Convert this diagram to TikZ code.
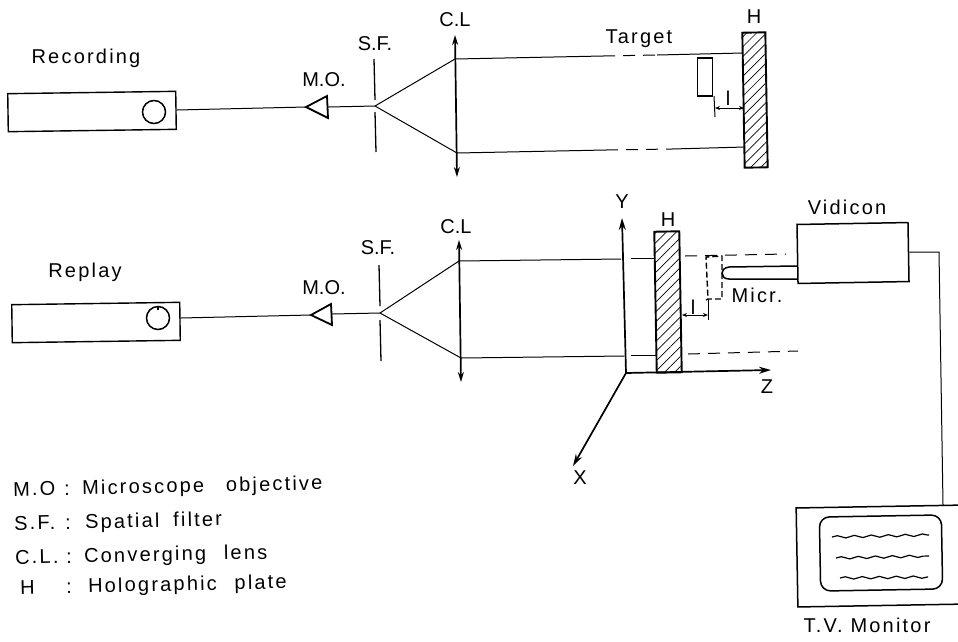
\documentclass[tikz,border=0pt]{standalone}
\usepackage{fontspec}
\setmainfont{Liberation Sans}
\newfontfamily\spaced[LetterSpace=11]{Liberation Sans}
\usetikzlibrary{arrows.meta, patterns.meta, decorations.pathmorphing}
\tikzstyle{laser}   = [rectangle, draw=black, line width=1.4pt, minimum width=168pt, minimum height=38pt, inner sep=0pt, rotate=0.8]
\tikzstyle{port}    = [circle, draw=black, line width=1.5pt, minimum size=23pt, inner sep=0pt]
\tikzstyle{objective} = [draw=black, line width=1.8pt, line join=miter]
\tikzstyle{plate}   = [rectangle, draw=black, line width=1.9pt, inner sep=0pt,
                       pattern={Lines[angle=45, distance=7pt, line width=0.7pt]}]
\tikzstyle{beam}    = [line width=1pt]
\tikzstyle{gapped}  = [line width=1pt, dash pattern=on 12pt off 8pt]
\tikzstyle{filter}  = [line width=1.3pt]
\tikzstyle{lens}    = [{Stealth[length=10pt, width=6pt]}-{Stealth[length=10pt, width=6pt]}, line width=1.7pt]
\tikzstyle{axis}    = [-{Stealth[length=12pt, width=7pt]}, line width=1.7pt]
\tikzstyle{dimen}   = [{Stealth[length=5pt, width=4pt]}-{Stealth[length=5pt, width=4pt]}, line width=0.9pt]
\tikzstyle{word}    = [font=\fontsize{20}{22}\selectfont\spaced, inner sep=0pt]
\tikzstyle{tag}     = [font=\fontsize{20}{22}\selectfont, inner sep=0pt]
\tikzstyle{legend}  = [font=\fontsize{20}{22}\selectfont\spaced, inner sep=0pt, anchor=west, rotate=1.2]
\tikzstyle{trace}   = [line width=1.2pt, decorate, decoration={snake, amplitude=1.2pt, segment length=17pt}]
\newcommand{\legendrow}[2]{\makebox[69pt][l]{\makebox[51pt][l]{#1}:}#2}

\begin{document}
\begin{tikzpicture}[x=1pt, y=-1pt]
  \useasboundingbox (0,0) rectangle (958,641);

  % Recording
  \node (recLabel)  [word] at (86,58)  {Recording};
  \node (recLaser)  [laser] at (92,111.5) {};
  \node (recPort)   [port]  at (154,112) {};
  \node (recMOl)    [tag]  at (324,80) {M.O.};
  \node (recSFl)    [tag]  at (375,44) {S.F.};
  \node (recCLl)    [tag]  at (455,20) {C.L};
  \node (recTarget) [word] at (639,39) {Target};
  \node (recHl)     [tag]  at (754,17) {H};
  \node (recPlate)  [plate, minimum width=23pt, minimum height=135pt, rotate=1] at (755,100) {};
  \node (recObj)    [rectangle, draw=black, line width=1.7pt, minimum width=15pt, minimum height=38pt, inner sep=0pt] at (705,77) {};
  \node (recDist)   [tag]  at (728,98) {l};

  \coordinate (recTip)   at (306,107);
  \coordinate (recBack)  at (328,107);
  \coordinate (recFocus) at (375,106);
  \coordinate (recUp)    at (455,59);
  \coordinate (recDown)  at (457,153);

  \draw [beam] (recLaser.east |- 0,110) -- (recTip);
  \draw [objective] (recTip) -- (327,96) -- (328,118) -- cycle;
  \draw [beam] (recBack) -- (recFocus);
  \draw [filter] (374,59) -- (375,100);
  \draw [filter] (375,112) -- (376,152);
  \draw [lens] (455,35) -- (457,177);
  \draw [beam] (recFocus) -- (recUp);
  \draw [beam] (recFocus) -- (recDown);

  \draw [beam] (recUp) -- (603,56);
  \draw [gapped] (603,56) -- (657,55);
  \draw [beam] (657,55) -- (743,53);
  \draw [beam] (recDown) -- (606,150);
  \draw [gapped] (606,150) -- (672,149);
  \draw [beam] (672,149) -- (745,147);

  \draw [beam] (714,96) -- (715,117);
  \draw [dimen] (715,108) -- (744,108);

  % Replay
  \node (repLabel)  [word] at (85,272) {Replay};
  \node (repLaser)  [laser] at (96,322.5) {};
  \node (repPort)   [port]  at (158,318) {};
  \node (repMOl)    [tag]  at (324,288) {M.O.};
  \node (repSFl)    [tag]  at (378,248) {S.F.};
  \node (repCLl)    [tag]  at (456,227) {C.L};
  \node (repHl)     [tag]  at (668,220) {H};
  \node (repPlate)  [plate, minimum width=25pt, minimum height=141pt, rotate=1] at (668,302) {};
  \node (repDist)   [tag]  at (693,307) {l};
  \node (repMicr)   [word] at (757,295) {Micr.};
  \node (vidicon)   [rectangle, draw=black, line width=1.5pt, minimum width=111pt, minimum height=59pt, inner sep=0pt, rotate=1] at (853,253) {};
  \node (vidLabel)  [word] at (847,207) {Vidicon};

  \coordinate (repTip)   at (311,315);
  \coordinate (repBack)  at (332,314);
  \coordinate (repFocus) at (380,313);
  \coordinate (repUp)    at (459,261);
  \coordinate (repDown)  at (461,358);

  \draw [line width=1.5pt] (repPort.north) -- +(0,4);
  \draw [beam] (repLaser.east |- 0,318) -- (repTip);
  \draw [objective] (repTip) -- (331,304) -- (332,325) -- cycle;
  \draw [beam] (repBack) -- (repFocus);
  \draw [filter] (379,265) -- (380,306);
  \draw [filter] (380,320) -- (381,361);
  \draw [lens] (459,240) -- (461,382);
  \draw [beam] (repFocus) -- (repUp);
  \draw [beam] (repFocus) -- (repDown);

  \draw [beam] (repUp) -- (621,259);
  \draw [beam] (631,258) -- (654,258);
  \draw [gapped] (685,256) -- (786,254);
  \draw [beam] (repDown) -- (624,356);
  \draw [beam] (631,355) -- (656,355);
  \draw [gapped] (688,354) -- (798,351);

  % Axes
  \coordinate (origin) at (626,373);
  \node (axisY) [tag] at (622,202) {Y};
  \node (axisZ) [tag] at (767,387) {Z};
  \node (axisX) [tag] at (580,478) {X};
  \draw [axis] (origin) -- (622,218);
  \draw [axis] (origin) -- (771,370);
  \draw [axis] (origin) -- (573,466);

  % Probe
  \draw [line width=1.4pt, dash pattern=on 6pt off 3pt] (706,300) -- (708,299) -- (722,299) -- (722,256) -- (706,257) -- (708,299);
  \draw [line width=1.5pt] (vidicon.west |- 0,266) -- (729,267) .. controls (724,268) and (722,270) .. (722,273)
        .. controls (722,276) and (724,279) .. (729,279) -- (vidicon.west |- 0,279);
  \draw [beam] (708,299) -- (708,320);
  \draw [dimen] (682,315) -- (708,315);

  % Monitor
  \node (monitor) [rectangle, draw=black, line width=1.5pt, minimum width=168pt, minimum height=99pt, inner sep=0pt, rotate=1] at (881,556) {};
  \node (screen)  [rectangle, rounded corners=10pt, draw=black, line width=1.5pt, minimum width=122pt, minimum height=74pt, inner sep=0pt, rotate=1] at (881,553) {};
  \node (tvLabel) [word] at (867,625) {T.V. Monitor};
  \draw [trace] (832,537) -- (929,535);
  \draw [trace] (836,558) -- (929,556);
  \draw [trace] (840,578) -- (928,577);
  \draw [beam] (vidicon.east |- 0,252) -- (939,252) -- (943,505);

  % Legend
  \node (legMO) [legend] at (13,491) {\legendrow{M.O}{Microscope\hspace{14pt} objective}};
  \node (legSF) [legend] at (14,525) {\legendrow{S.F.}{\hspace{2pt}Spatial\hspace{6pt} filter}};
  \node (legCL) [legend] at (15,559) {\legendrow{C.L.}{Converging\hspace{10pt} lens}};
  \node (legH)  [legend] at (15,589) {\legendrow{\hspace{5pt}H}{\hspace{4pt}Holographic\hspace{10pt} plate}};
\end{tikzpicture}
\end{document}
